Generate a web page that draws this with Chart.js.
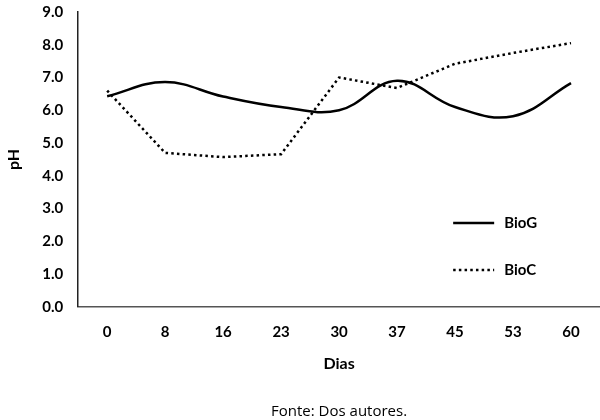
<!DOCTYPE html>
<html>
<head>
<meta charset="utf-8">
<script src="https://cdn.jsdelivr.net/npm/chart.js@4/dist/chart.umd.min.js"></script>
<style>
  html, body { margin: 0; padding: 0; background: #fff; }
  #wrap { width: 600px; height: 420px; }
</style>
</head>
<body>
<div id="wrap"><canvas id="c" width="600" height="420"></canvas></div>
<script>
const dias = ["0", "8", "16", "23", "30", "37", "45", "53", "60"];
const bioG = [6.43, 6.86, 6.42, 6.1, 6.0, 6.9, 6.1, 5.82, 6.83];
const bioC = [6.6, 4.7, 4.57, 4.66, 7.0, 6.68, 7.42, 7.75, 8.05];
const yTicks = [0, 1, 2, 3, 4, 5, 6, 7, 8, 9];

const FONT = "Lato, 'Open Sans', sans-serif";

const legendPlugin = {
  id: 'insideLegend',
  afterDraw(chart) {
    const ctx = chart.ctx;
    const area = chart.chartArea;
    const x0 = area.left + 375, x1 = area.left + 416;
    const rows = [area.top + 211, area.top + 258];
    chart.data.datasets.forEach((ds, i) => {
      const y = rows[i];
      ctx.save();
      ctx.strokeStyle = ds.borderColor;
      ctx.lineWidth = ds.borderWidth;
      ctx.setLineDash(ds.borderDash || []);
      ctx.beginPath();
      ctx.moveTo(x0, y);
      ctx.lineTo(x1, y);
      ctx.stroke();
      ctx.setLineDash([]);
      ctx.fillStyle = '#000';
      ctx.font = "bold 15px " + FONT;
      ctx.textBaseline = 'middle';
      ctx.textAlign = 'left';
      ctx.fillText(ds.label, x1 + 10, y);
      ctx.restore();
    });
  }
};

new Chart(document.getElementById('c'), {
  type: 'line',
  data: {
    labels: dias,
    datasets: [
      {
        label: 'BioG',
        data: bioG,
        borderColor: '#000',
        borderWidth: 2.5,
        tension: 0.4,
        pointRadius: 0,
        fill: false
      },
      {
        label: 'BioC',
        data: bioC,
        borderColor: '#000',
        borderWidth: 2.5,
        borderDash: [2.5, 3.2],
        tension: 0,
        pointRadius: 0,
        fill: false
      }
    ]
  },
  options: {
    responsive: false,
    animation: false,
    devicePixelRatio: 1,
    layout: { padding: { left: 4, right: 0, top: 0, bottom: 0 } },
    plugins: {
      legend: { display: false },
      tooltip: { enabled: false },
      title: {
        display: true,
        position: 'bottom',
        fullSize: false,
        text: 'Fonte: Dos autores.',
        color: '#000',
        font: { family: "'Open Sans', sans-serif", size: 15, weight: 'normal' },
        padding: { top: 30, bottom: -1 }
      }
    },
    scales: {
      x: {
        type: 'category',
        offset: true,
        grid: { display: false, drawTicks: false },
        border: { display: true, color: '#555', width: 1.5 },
        ticks: {
          color: '#000',
          font: { family: FONT, size: 15, weight: 'bold' },
          padding: 16,
          maxRotation: 0
        },
        title: {
          display: true,
          text: 'Dias',
          color: '#000',
          font: { family: FONT, size: 16, weight: 'bold' },
          padding: { top: -3, bottom: 0 }
        }
      },
      y: {
        min: 0,
        max: 9,
        afterBuildTicks(axis) { axis.ticks = yTicks.map(v => ({ value: v })); },
        afterFit(axis) { axis.paddingTop = 12; },
        grid: { display: false, drawTicks: false },
        border: { display: true, color: '#222', width: 1.5 },
        ticks: {
          color: '#000',
          font: { family: FONT, size: 15, weight: 'bold' },
          padding: 15,
          callback: v => Number(v).toFixed(1)
        },
        title: {
          display: true,
          text: 'pH',
          color: '#000',
          font: { family: FONT, size: 16, weight: 'bold' },
          padding: { top: 0, bottom: 4 }
        }
      }
    }
  },
  plugins: [legendPlugin]
});
</script>
</body>
</html>
